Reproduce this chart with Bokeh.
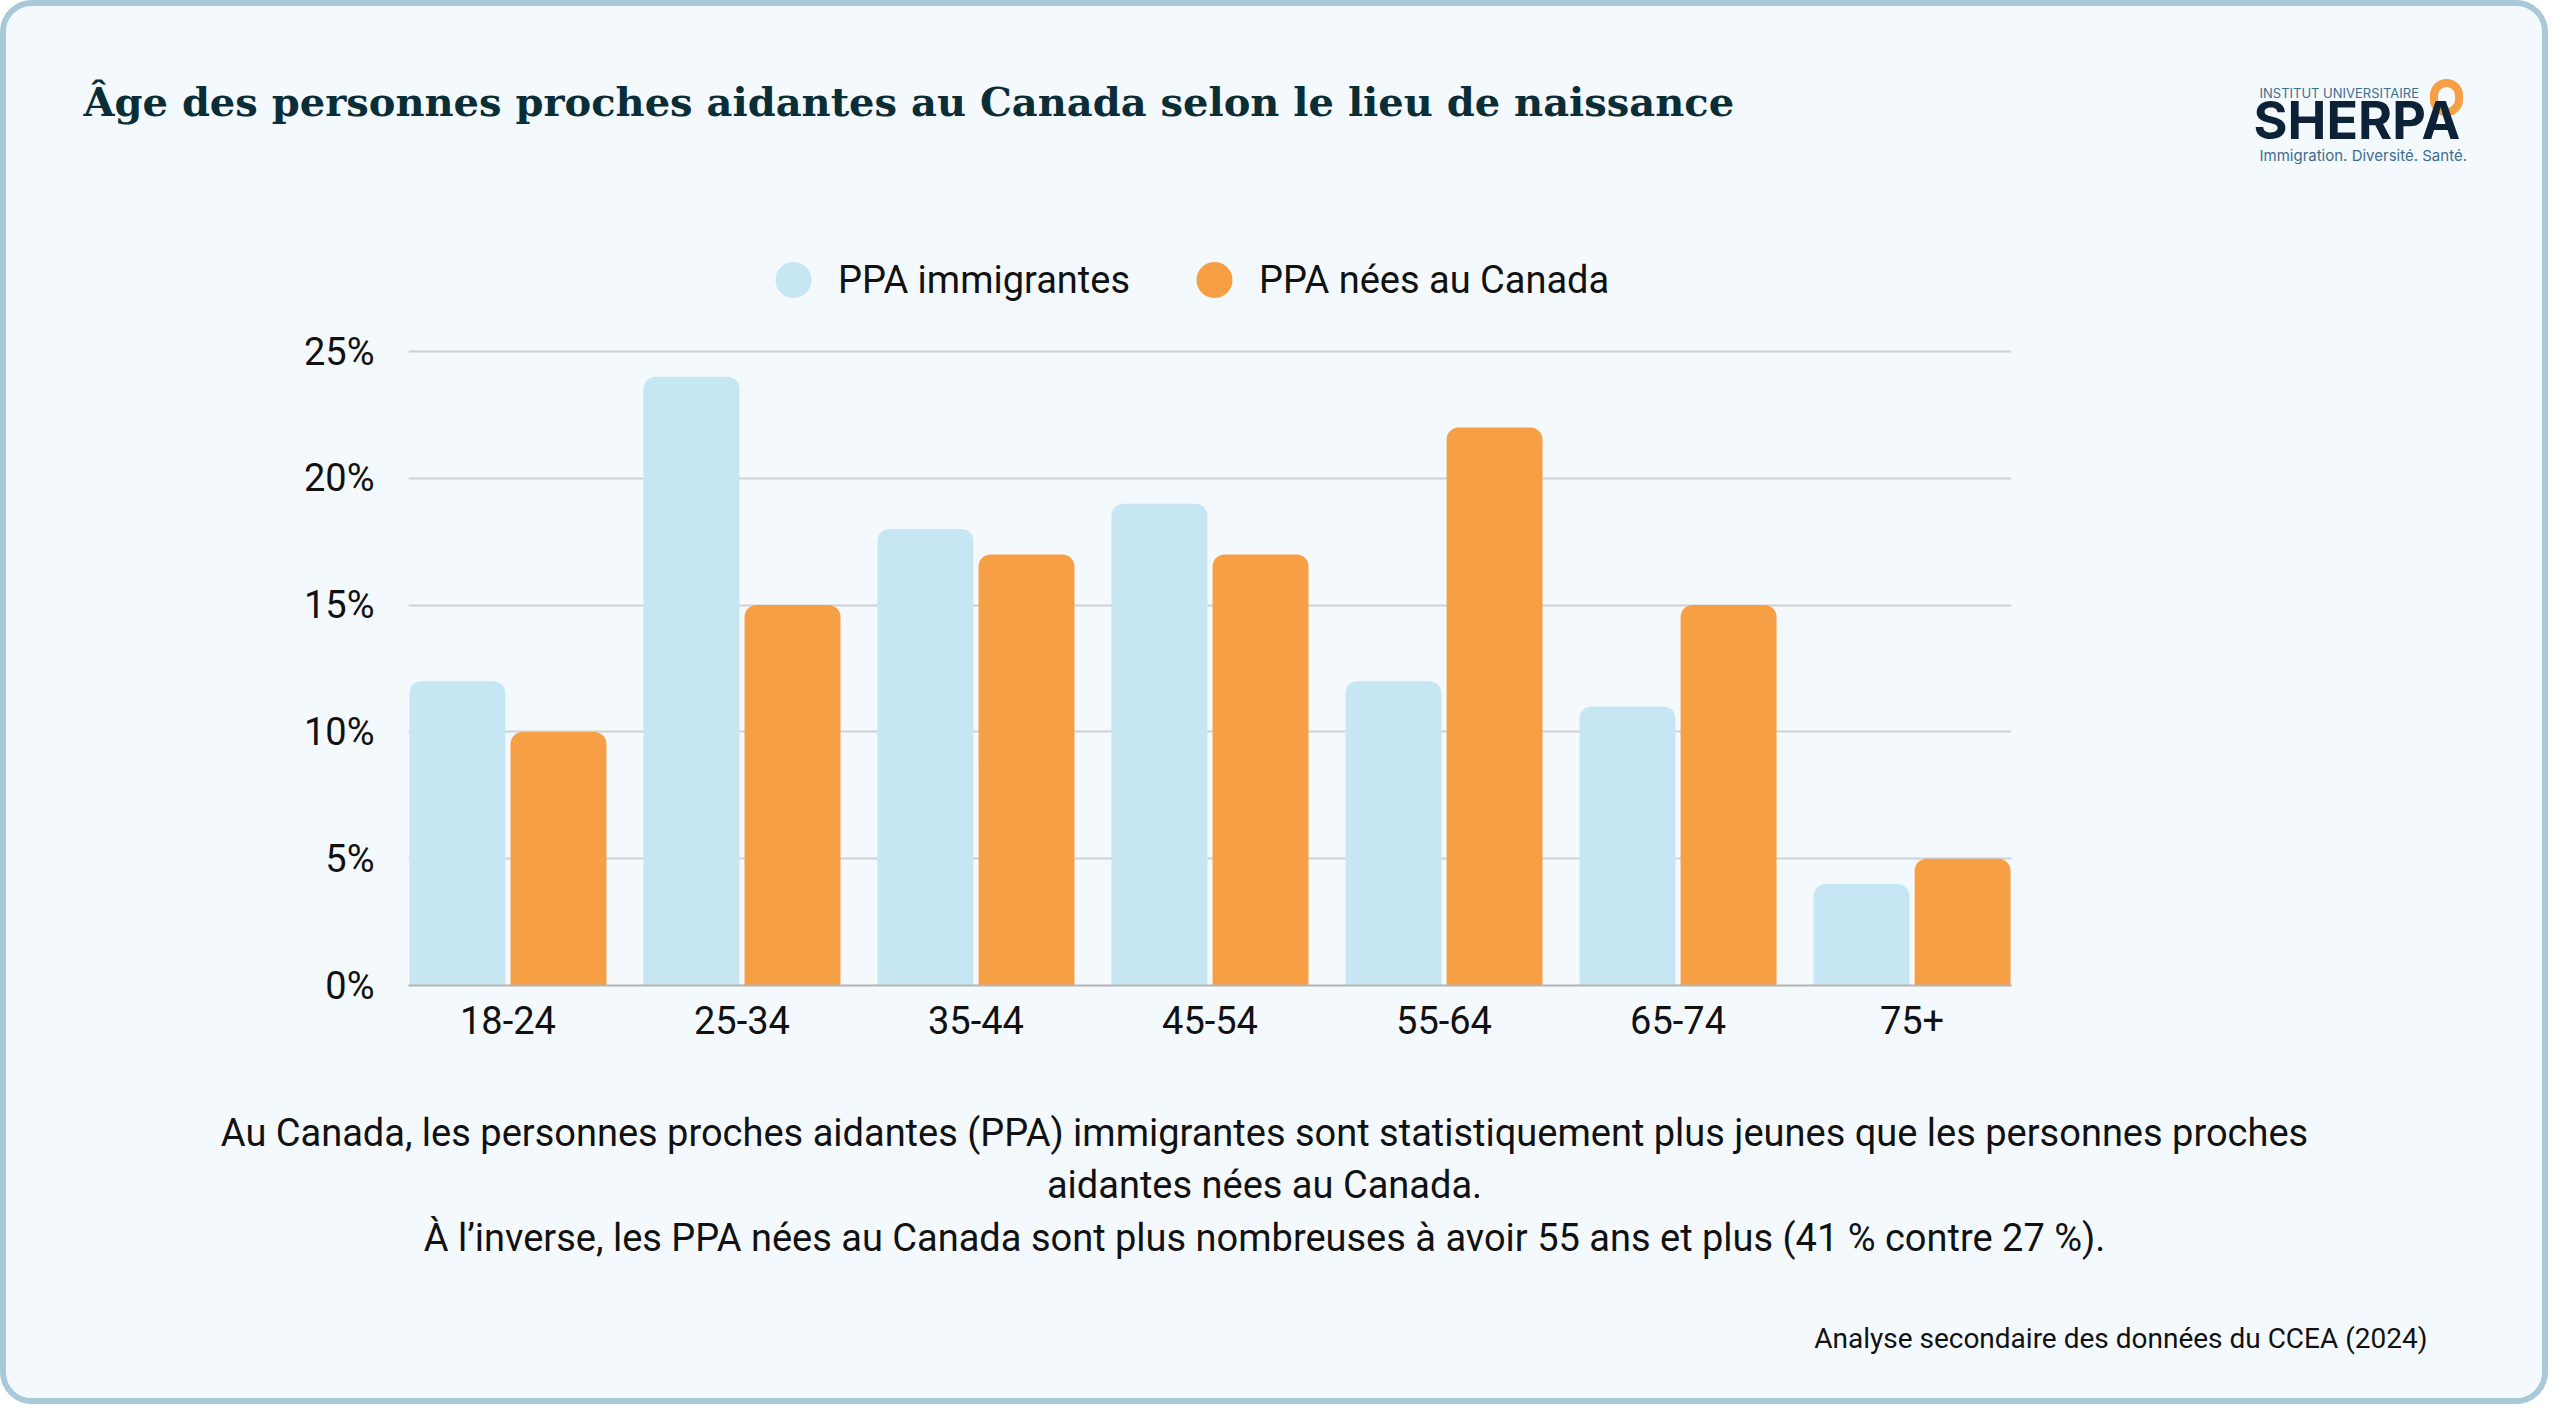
from bokeh.plotting import figure
from bokeh.models import (Range1d, FixedTicker, PrintfTickFormatter, Legend, LegendItem,
                          Label, ColumnDataSource)
from bokeh.transform import dodge
from bokeh.embed import file_html
from bokeh.resources import INLINE

# ---- data ----
categories = ["18-24", "25-34", "35-44", "45-54", "55-64", "65-74", "75+"]
immigrantes = [12, 24, 18, 19, 12, 11, 4]
nees_canada = [10, 15, 17, 17, 22, 15, 5]
y_ticks = [0, 5, 10, 15, 20, 25]
series_names = ["PPA immigrantes", "PPA nées au Canada"]

title_text = "Âge des personnes proches aidantes au Canada selon le lieu de naissance"
note_lines = [
    "Au Canada, les personnes proches aidantes (PPA) immigrantes sont statistiquement plus jeunes que les personnes proches",
    "aidantes nées au Canada.",
    "À l’inverse, les PPA nées au Canada sont plus nombreuses à avoir 55 ans et plus (41 % contre 27 %).",
]
source_text = "Analyse secondaire des données du CCEA (2024)"

BLUE = "#c5e6f2"
ORANGE = "#f79f45"
CARD = "#f4f9fd"
FONT = "Roboto"
BW = 6  # card border width (css)

W, H = 2560 - 2 * BW, 1416 - 2 * BW
FRAME_TOP, FRAME_BOTTOM = 220, 985
p = figure(width=W, height=H, output_backend="svg", toolbar_location=None,
           x_range=Range1d(-0.425, 6.425), y_range=Range1d(0, 25 * (FRAME_BOTTOM - FRAME_TOP) / 634.0),
           min_border_left=408 - BW, min_border_right=549 - BW,
           min_border_top=FRAME_TOP - BW, min_border_bottom=1416 - FRAME_BOTTOM - BW)
p.border_fill_color = CARD
p.background_fill_color = CARD
p.outline_line_color = None
p.styles = {"border": f"{BW}px solid #a9c8d8", "border-radius": "32px", "overflow": "hidden",
            "background-color": CARD}

xi = list(range(len(categories)))
src = ColumnDataSource(dict(x=xi, imm=immigrantes, nees=nees_canada))
off = 0.216
bw = 0.41
p.vbar(x=dodge("x", -off), top="imm", width=bw, source=src, fill_color=BLUE,
       line_color=None, border_radius=[12, 12, 0, 0])
p.vbar(x=dodge("x", off), top="nees", width=bw, source=src, fill_color=ORANGE,
       line_color=None, border_radius=[12, 12, 0, 0])

# axes
p.xaxis.ticker = FixedTicker(ticks=xi)
p.xaxis.major_label_overrides = {i: c for i, c in zip(xi, categories)}
p.xaxis.axis_line_color = "#b3b3b3"
p.xaxis.axis_line_width = 2
p.xaxis.major_tick_line_color = None
p.xaxis.minor_tick_line_color = None
p.xaxis.major_label_standoff = 14
p.yaxis.ticker = FixedTicker(ticks=y_ticks)
p.yaxis.formatter = PrintfTickFormatter(format="%d%%")
p.yaxis.axis_line_color = None
p.yaxis.major_tick_line_color = None
p.yaxis.minor_tick_line_color = None
p.yaxis.major_label_standoff = 28
for ax in (p.xaxis, p.yaxis):
    ax.major_label_text_font = FONT
    ax.major_label_text_font_size = "38px"
    ax.major_label_text_color = "#111111"
p.xgrid.grid_line_color = None
p.ygrid.ticker = FixedTicker(ticks=y_ticks[1:])
p.ygrid.grid_line_color = "#cdd1d8"
p.ygrid.grid_line_width = 2

# legend with circles (the point lies outside the visible range)
l1 = p.scatter(x=[-100], y=[-100], marker="circle", size=10, fill_color=BLUE, line_color=None)
l2 = p.scatter(x=[-100], y=[-100], marker="circle", size=10, fill_color=ORANGE, line_color=None)
legend = Legend(items=[LegendItem(label=series_names[0], renderers=[l1]),
                       LegendItem(label=series_names[1], renderers=[l2])],
                orientation="horizontal", location=(340, 658),
                glyph_width=90, glyph_height=95, label_standoff=0, spacing=39,
                padding=0, margin=0, background_fill_alpha=0, border_line_color=None,
                label_text_font=FONT, label_text_font_size="38px", label_text_color="#111111")
p.add_layout(legend, "center")


def lab(x, y, text, place, fs, **kw):
    # y is the wanted baseline (canvas px); Bokeh's alphabetic placement sits ~0.5em lower
    p.add_layout(Label(x=x - BW, y=y - BW - 0.5 * fs, x_units="canvas", y_units="canvas", text=text,
                       text_font_size=f"{fs}px", text_baseline="alphabetic", **kw), place)


# title
lab(77, 115, title_text, "above", 40, text_font="DejaVu Serif", text_font_style="bold",
    text_color="#0b2e36")

# notes
for txt, yb in zip(note_lines, [1145, 1197, 1250]):
    lab(1258, yb, txt, "below", 38, text_font=FONT, text_color="#111111", text_align="center")
lab(2421, 1346, source_text, "below", 28, text_font=FONT, text_color="#111111", text_align="right")

# logo
p.add_layout(Label(x=2440 - BW, y=91 - BW, x_units="canvas", y_units="canvas", text=" ",
                   text_font_size="4px", text_align="center", text_baseline="middle",
                   padding=12, border_line_color=ORANGE, border_line_width=8, border_radius=20), "above")
lab(2253, 93, "INSTITUT UNIVERSITAIRE", "above", 13, text_font="Inter", text_color="#3c6e8f")
lab(2247, 140, "SHERPA", "above", 52, text_font="Inter", text_font_style="bold", text_color="#0d2137")
lab(2253, 156, "Immigration. Diversité. Santé.", "above", 15, text_font="Inter", text_color="#3c6e8f")

open("out.html", "w").write(file_html(p, INLINE))
